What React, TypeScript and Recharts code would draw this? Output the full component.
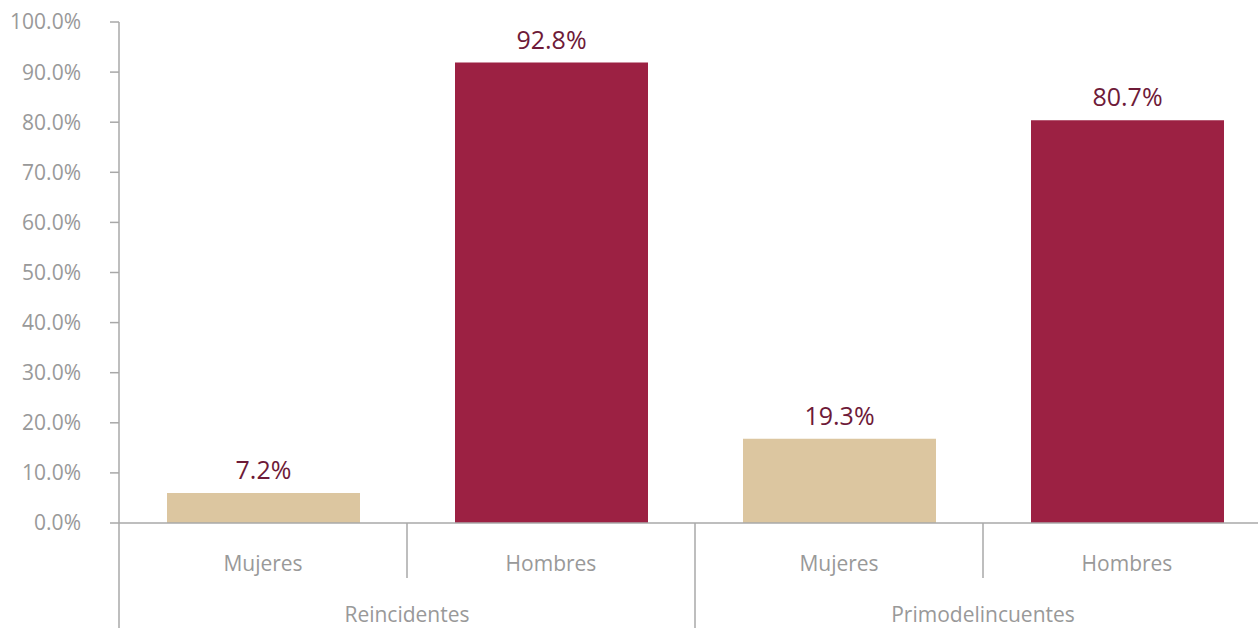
import { BarChart, Bar, XAxis, YAxis, Cell, LabelList } from "recharts";

const categories = ["Mujeres", "Hombres", "Mujeres", "Hombres"];
const groups = ["Reincidentes", "Reincidentes", "Primodelincuentes", "Primodelincuentes"];
// bar heights as drawn in the picture
const barValues = [6.0, 91.9, 16.8, 80.4];
// value labels printed above the bars
const labelValues = [7.2, 92.8, 19.3, 80.7];
const yTicks = [0, 10, 20, 30, 40, 50, 60, 70, 80, 90, 100];

const barColors = ["#dcc6a0", "#9c2143", "#dcc6a0", "#9c2143"];

const data = categories.map((c, i) => ({
  sexo: c,
  grupo: groups[i],
  valor: barValues[i],
  etiqueta: labelValues[i],
}));

const FONT = "'Open Sans', sans-serif";
const GRAY = "#999999";
const LINE = "#a8a8a8";

function CategoryTick(props: any) {
  const { x, y, payload, index } = props;
  const half = payload?.offset || 144;
  const left = x - half;
  const right = x + half;
  return (
    <g>
      <text
        x={x}
        y={y + 48}
        textAnchor="middle"
        fill={GRAY}
        fontSize={21}
        fontFamily={FONT}
      >
        {payload.value}
      </text>
      {index % 2 === 0 && (
        <>
          <line x1={left} y1={y} x2={left} y2={y + 110} stroke={LINE} strokeWidth={1.5} />
          <line x1={right} y1={y} x2={right} y2={y + 55} stroke={LINE} strokeWidth={1.5} />
          <text
            x={right}
            y={y + 99}
            textAnchor="middle"
            fill={GRAY}
            fontSize={21}
            fontFamily={FONT}
          >
            {groups[index]}
          </text>
        </>
      )}
      {index === categories.length - 1 && (
        <line x1={right} y1={y} x2={right} y2={y + 110} stroke={LINE} strokeWidth={1.5} />
      )}
    </g>
  );
}

function ValueLabel(props: any) {
  const { x, y, width, index } = props;
  return (
    <text
      x={x + width / 2}
      y={y - 14}
      textAnchor="middle"
      fill="#6e1a38"
      fontSize={25}
      fontFamily={FONT}
    >
      {labelValues[index].toFixed(1) + "%"}
    </text>
  );
}

export default function App() {
  return (
    <div
      style={{
        position: "absolute",
        left: 0,
        top: 0,
        width: 1258,
        height: 628,
        overflow: "hidden",
        background: "#fff",
      }}
    >
      <BarChart
        width={1282}
        height={640}
        data={data}
        margin={{ top: 22, right: 11, bottom: 0, left: 0 }}
      >
        <YAxis
          width={119}
          domain={[0, 100]}
          ticks={yTicks}
          interval={0}
          tickFormatter={(v: number) => v.toFixed(1) + "%"}
          tick={{ fill: GRAY, fontSize: 21, fontFamily: FONT }}
          tickSize={9}
          tickMargin={29}
          axisLine={{ stroke: LINE, strokeWidth: 1.5 }}
          tickLine={{ stroke: LINE, strokeWidth: 1.5 }}
        />
        <XAxis
          dataKey="sexo"
          height={117}
          interval={0}
          tickSize={0}
          tickMargin={0}
          tickLine={false}
          axisLine={{ stroke: LINE, strokeWidth: 1.5 }}
          tick={<CategoryTick />}
        />
        <Bar dataKey="valor" barSize={193} isAnimationActive={false}>
          {data.map((d, i) => (
            <Cell key={i} fill={barColors[i]} />
          ))}
          <LabelList dataKey="etiqueta" content={<ValueLabel />} />
        </Bar>
      </BarChart>
    </div>
  );
}
